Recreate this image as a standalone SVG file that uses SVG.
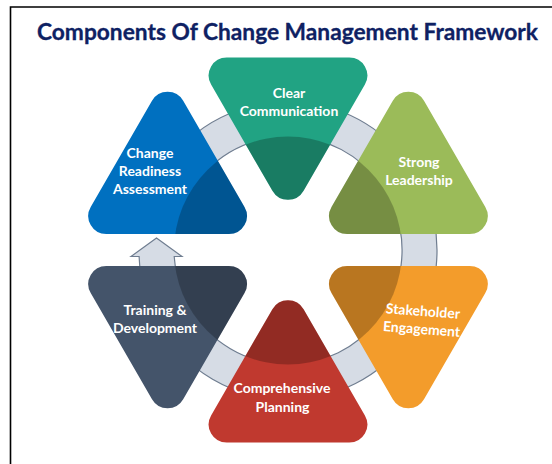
<svg xmlns="http://www.w3.org/2000/svg" xmlns:xlink="http://www.w3.org/1999/xlink" width="552" height="464" viewBox="0 0 552 464">
  <style>
    .title { font-family: Lato, "Open Sans", sans-serif; font-weight: 700; font-size: 22px; fill: #0e2163; stroke: #0e2163; stroke-width: 0.3; }
    .lbl { font-family: Lato, "Open Sans", sans-serif; font-weight: 700; font-size: 14px; fill: #ffffff; text-anchor: middle; }
    .shade { fill: #000000; fill-opacity: 0.24; }
    .ring { fill: #d6dce5; stroke: #6f7d90; stroke-width: 1.2; stroke-linejoin: miter; }
    .frame { stroke: #000000; stroke-width: 1.6; fill: none; }
  </style>
  <defs>
    <!-- rounded equilateral triangles, side 185, corner radius 18, drawn around their centroid -->
    <path id="triUp" d="M -15.6 -79.8 A 18 18 0 0 1 15.6 -79.8 L 76.9 26.4 A 18 18 0 0 1 61.3 53.4 L -61.3 53.4 A 18 18 0 0 1 -76.9 26.4 Z"/>
    <path id="triDown" d="M 15.6 79.8 A 18 18 0 0 1 -15.6 79.8 L -76.9 -26.4 A 18 18 0 0 1 -61.3 -53.4 L 61.3 -53.4 A 18 18 0 0 1 76.9 -26.4 Z"/>
    <clipPath id="inner" clipPathUnits="userSpaceOnUse">
      <circle cx="288" cy="250.5" r="114"/>
    </clipPath>
  </defs>

  <rect x="0" y="0" width="552" height="464" fill="#ffffff"/>
  <path class="frame" d="M 10.5 464 L 10.5 7 L 552 7"/>

  <text class="title" x="37" y="40" textLength="501" lengthAdjust="spacingAndGlyphs">Components Of Change Management Framework</text>

  <!-- circular band with an upward arrow head on the left -->
  <g id="connectors">
    <path class="ring" d="M 131 256.5 L 156.5 238 L 182 256.5 L 174.2 256.5 A 114 114 0 1 0 179.5 215.5 L 143.2 215.5 A 149 149 0 1 1 139.1 256.5 Z"/>
  </g>

  <g id="node-readiness">
    <use xlink:href="#triUp" transform="translate(167.6,180.5)" fill="#0070c0"/>
    <g clip-path="url(#inner)"><use xlink:href="#triUp" transform="translate(167.6,180.5)" class="shade"/></g>
    <text class="lbl" x="150" y="158">Change</text>
    <text class="lbl" x="150" y="176">Readiness</text>
    <text class="lbl" x="150" y="194">Assessment</text>
  </g>

  <g id="node-communication">
    <use xlink:href="#triDown" transform="translate(288,111)" fill="#21a383"/>
    <g clip-path="url(#inner)"><use xlink:href="#triDown" transform="translate(288,111)" class="shade"/></g>
    <text class="lbl" x="289" y="98">Clear</text>
    <text class="lbl" x="289" y="116">Communication</text>
  </g>

  <g id="node-leadership">
    <use xlink:href="#triUp" transform="translate(408.4,180.5)" fill="#9bbb59"/>
    <g clip-path="url(#inner)"><use xlink:href="#triUp" transform="translate(408.4,180.5)" class="shade"/></g>
    <text class="lbl" x="419" y="167">Strong</text>
    <text class="lbl" x="419" y="185">Leadership</text>
  </g>

  <g id="node-engagement">
    <use xlink:href="#triDown" transform="translate(408.4,319.5)" fill="#f39c2b"/>
    <g clip-path="url(#inner)"><use xlink:href="#triDown" transform="translate(408.4,319.5)" class="shade"/></g>
    <g transform="rotate(4.3 422 324)">
      <text class="lbl" x="422" y="316">Stakeholder</text>
      <text class="lbl" x="422" y="334">Engagement</text>
    </g>
  </g>

  <g id="node-planning">
    <use xlink:href="#triUp" transform="translate(288,389)" fill="#c0392f"/>
    <g clip-path="url(#inner)"><use xlink:href="#triUp" transform="translate(288,389)" class="shade"/></g>
    <text class="lbl" x="282" y="393">Comprehensive</text>
    <text class="lbl" x="282.5" y="412">Planning</text>
  </g>

  <g id="node-training">
    <use xlink:href="#triDown" transform="translate(167.6,319.5)" fill="#44546a"/>
    <g clip-path="url(#inner)"><use xlink:href="#triDown" transform="translate(167.6,319.5)" class="shade"/></g>
    <text class="lbl" x="155" y="315">Training &amp;</text>
    <text class="lbl" x="155" y="333">Development</text>
  </g>
</svg>
